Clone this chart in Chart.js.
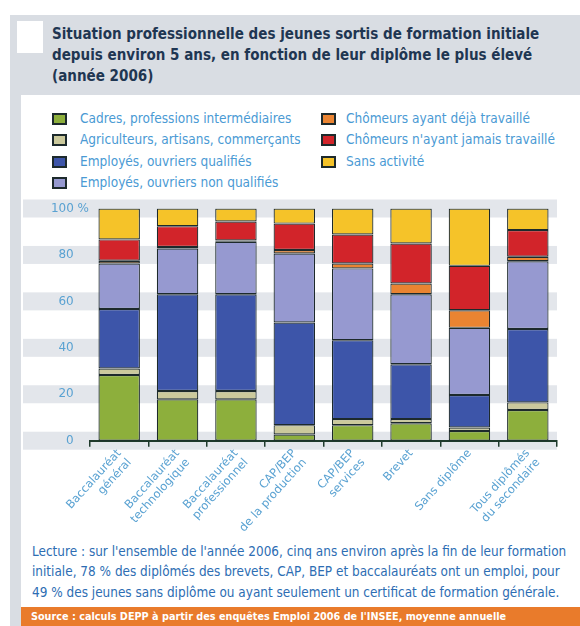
<!DOCTYPE html>
<html lang="fr">
<head>
<meta charset="utf-8">
<title>Situation professionnelle des jeunes</title>
<script src="https://cdn.jsdelivr.net/npm/chart.js@4"></script>
<style>
  html, body { margin: 0; padding: 0; background: #fff; }
  body { width: 580px; height: 626px; position: relative; overflow: hidden;
         font-family: "DejaVu Sans", sans-serif; }
  #frame { position: absolute; left: 10px; top: 15px; width: 570px; height: 611px; background: #d9dde3; }
  #mark { position: absolute; left: 17px; top: 21px; width: 26px; height: 32px; background: #fff; }
  #title { position: absolute; left: 52px; top: 23px; font-weight: bold; font-size: 16px; white-space: nowrap;
           line-height: 21px; color: #1f3652; transform: scaleX(0.845); transform-origin: 0 0; }
  #content { position: absolute; left: 21px; top: 95px; width: 559px; height: 512px; background: #fff; }
  #legend { position: absolute; left: 52px; top: 110px; width: 520px; }
  .lg { position: absolute; font-size: 14px; color: #4a9ad4; white-space: nowrap; line-height: 16px; }
  .lg i { position: absolute; left: 0; top: 3px; width: 11px; height: 8px; border: 2px solid #1d2a2c; }
  .lg span { position: absolute; left: 28px; top: 0; transform: scaleX(0.87); transform-origin: 0 0; }
  .lg.c2 span { left: 25px; }
  #wrap { position: absolute; left: 20px; top: 195px; width: 560px; height: 345px; }
  #note { position: absolute; left: 32px; top: 541px; font-size: 13.5px; line-height: 20.3px; color: #2d6db3;
          white-space: nowrap; transform: scaleX(0.895); transform-origin: 0 0; }
  #source { position: absolute; left: 21px; top: 607px; width: 559px; height: 19px; background: #e97b2b; }
  #source span { position: absolute; left: 10px; top: 0; color: #fff; font-size: 11px; font-weight: bold;
                 line-height: 19px; white-space: nowrap; transform: scaleX(0.88); transform-origin: 0 0; }
</style>
</head>
<body>
<div id="frame"></div>
<div id="mark"></div>
<div id="title">Situation professionnelle des jeunes sortis de formation initiale<br>depuis environ 5 ans, en fonction de leur diplôme le plus élevé<br>(année 2006)</div>
<div id="content"></div>
<div id="legend"></div>
<div id="wrap"><canvas id="chart"></canvas></div>
<div id="note">Lecture : sur l'ensemble de l'année 2006, cinq ans environ après la fin de leur formation<br>initiale, 78 % des diplômés des brevets, CAP, BEP et baccalauréats ont un emploi, pour<br>49 % des jeunes sans diplôme ou ayant seulement un certificat de formation générale.</div>
<div id="source"><span>Source : calculs DEPP à partir des enquêtes Emploi 2006 de l'INSEE, moyenne annuelle</span></div>

<script>
/* ── DATA (% of each diploma group, bottom to top) ── */
var LABELS = [
  ["Baccalauréat", "général"],
  ["Baccalauréat", "technologique"],
  ["Baccalauréat", "professionnel"],
  ["CAP/BEP", "de la production"],
  ["CAP/BEP", "services"],
  ["Brevet"],
  ["Sans diplôme"],
  ["Tous diplômés", "du secondaire"]
];
var CADRES       = [28.3, 17.8, 17.8,  2.7,  6.7,  7.5,  4.2, 13.2];
var AGRICULTEURS = [ 2.8,  3.6,  3.6,  4.0,  2.6,  1.8,  1.5,  3.3];
var QUALIFIES    = [25.6, 41.7, 41.7, 44.2, 34.0, 23.6, 14.0, 31.6];
var NON_QUALIF   = [19.6, 19.7, 22.6, 29.7, 30.9, 30.2, 28.9, 29.2];
var CHOM_DEJA    = [ 1.2,  0.6,  0.5,  1.5,  2.1,  4.6,  7.6,  1.9];
var CHOM_JAMAIS  = [ 9.2,  9.0,  8.2, 11.4, 12.5, 17.2, 19.1, 11.5];
var SANS_ACTIV   = [13.3,  7.6,  5.6,  6.5, 11.2, 15.1, 24.7,  9.3];
var Y_TICKS      = [0, 20, 40, 60, 80, 100];

/* ── SERIES (name, values, colour, legend column/row) ── */
var SERIES = [
  { name: "Cadres, professions intermédiaires",  data: CADRES,       color: "#8daf3c", col: 0, row: 0 },
  { name: "Agriculteurs, artisans, commerçants", data: AGRICULTEURS, color: "#cbc99c", col: 0, row: 1 },
  { name: "Employés, ouvriers qualifiés",        data: QUALIFIES,    color: "#3d55a9", col: 0, row: 2 },
  { name: "Employés, ouvriers non qualifiés",    data: NON_QUALIF,   color: "#9699d0", col: 0, row: 3 },
  { name: "Chômeurs ayant déjà travaillé",       data: CHOM_DEJA,    color: "#ea8432", col: 1, row: 0 },
  { name: "Chômeurs n'ayant jamais travaillé",   data: CHOM_JAMAIS,  color: "#d2242a", col: 1, row: 1 },
  { name: "Sans activité",                       data: SANS_ACTIV,   color: "#f5c329", col: 1, row: 2 }
];

var FONT = "'DejaVu Sans', sans-serif";
var TICK_COLOR = "#5aa2d2";

/* ── legend (two columns, like the printed figure) ── */
(function () {
  var box = document.getElementById("legend");
  SERIES.forEach(function (s) {
    var d = document.createElement("div");
    d.className = "lg" + (s.col ? " c2" : "");
    d.style.left = (s.col ? 269 : 0) + "px";
    d.style.top = (s.row * 21.3) + "px";
    d.innerHTML = '<i style="background:' + s.color + '"></i><span></span>';
    d.querySelector("span").textContent = s.name;
    box.appendChild(d);
  });
})();

/* grey bands behind each y tick */
var bandPlugin = {
  id: "bands",
  beforeDraw: function (chart) {
    var y = chart.scales.y, ctx = chart.ctx, a = chart.chartArea;
    ctx.save();
    ctx.fillStyle = "#e3e6eb";
    Y_TICKS.forEach(function (v) {
      var py = y.getPixelForValue(v);
      ctx.fillRect(3, py - 9, a.right - 3, 18);
    });
    ctx.restore();
  }
};

new Chart(document.getElementById("chart"), {
  type: "bar",
  data: {
    labels: LABELS,
    datasets: SERIES.map(function (s) {
      return {
        label: s.name,
        data: s.data,
        backgroundColor: s.color,
        borderColor: "#1d2a2c",
        borderWidth: 1.2,
        borderSkipped: false,
        categoryPercentage: 1,
        barPercentage: 0.71
      };
    })
  },
  options: {
    responsive: true,
    maintainAspectRatio: false,
    animation: false,
    layout: { padding: { top: 13.5, right: 23, bottom: 0, left: 0 } },
    plugins: { legend: { display: false }, tooltip: { enabled: false } },
    scales: {
      x: {
        stacked: true,
        border: { display: true, color: "#1f3a2c", width: 2 },
        grid: { display: true, drawOnChartArea: false, drawTicks: true, tickLength: 6, color: "#1f3a2c", lineWidth: 1.5, offset: true },
        ticks: { autoSkip: false, minRotation: 48, maxRotation: 48, padding: 0,
                 color: TICK_COLOR, font: { family: FONT, size: 11.5 } },
        afterFit: function (s) { s.height = 99.3; }
      },
      y: {
        stacked: true,
        min: 0, max: 100,
        afterBuildTicks: function (s) { s.ticks = Y_TICKS.map(function (v) { return { value: v }; }); },
        border: { display: false },
        grid: { display: false, drawTicks: false },
        ticks: {
          padding: 1,
          color: TICK_COLOR,
          font: { family: FONT, size: 12 },
          callback: function (v) { return v === 100 ? "100 %" : v + "    "; }
        },
        afterFit: function (s) { s.width = 70; }
      }
    }
  },
  plugins: [bandPlugin]
});
</script>
</body>
</html>
